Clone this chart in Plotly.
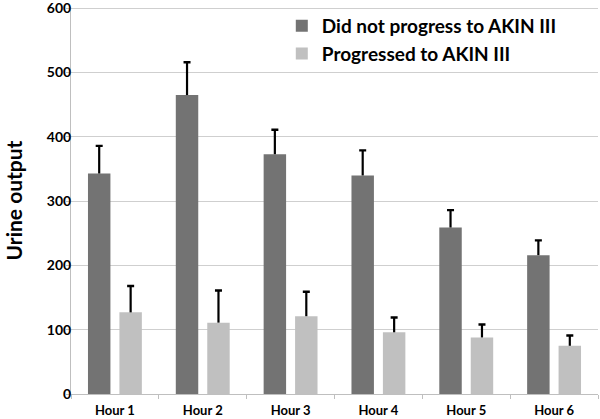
import plotly.graph_objects as go

categories = ["Hour 1", "Hour 2", "Hour 3", "Hour 4", "Hour 5", "Hour 6"]
no_progress = [343, 465, 373, 340, 259, 216]
no_progress_err = [43, 51, 38, 39, 27, 23]
progressed = [127, 111, 121, 96, 88, 75]
progressed_err = [41, 50, 38, 23, 20, 16]

FONT = "Lato, 'Open Sans', 'Liberation Sans', sans-serif"

fig = go.Figure()
fig.add_trace(go.Bar(
    x=categories, y=no_progress, name="Did not progress to AKIN III",
    marker=dict(color="#737373", line=dict(width=0)), offsetgroup="a",
))
fig.add_trace(go.Bar(
    x=categories, y=progressed, name="Progressed to AKIN III",
    marker=dict(color="#c0c0c0", line=dict(width=0)), offsetgroup="b",
))
# upper error whiskers drawn as thin bars above each bar
for vals, errs, grp in [(no_progress, no_progress_err, "a"),
                        (progressed, progressed_err, "b")]:
    fig.add_trace(go.Bar(
        x=categories, y=errs, base=vals, width=0.025, offsetgroup=grp,
        marker=dict(color="black", line=dict(width=0)), showlegend=False,
        hoverinfo="skip",
        error_y=dict(type="data", array=[0]*len(errs), color="black",
                     thickness=2.4, width=3.5),
    ))

fig.update_layout(
    width=600, height=419,
    margin=dict(l=71, r=2, t=7, b=25, autoexpand=False),
    paper_bgcolor="white", plot_bgcolor="white",
    barmode="group", bargap=0.284, bargroupgap=0.286,
    font=dict(family=FONT, color="black"),
    showlegend=True,
    legend=dict(x=0.4, y=1.0, xanchor="left", yanchor="top",
                bgcolor="rgba(0,0,0,0)",
                font=dict(family=FONT, size=19, color="black", weight="bold"),
                tracegroupgap=0, itemwidth=30),
    yaxis=dict(range=[0, 602], tickvals=[0, 100, 200, 300, 400, 500, 600],
               showgrid=True, gridcolor="#cfcfcf",
               gridwidth=1, showline=True, linecolor="#bfbfbf", linewidth=1,
               ticks="outside", ticklen=4, tickcolor="#bfbfbf",
               ticklabeloverflow="allow", ticklabelstandoff=-8,
               tickfont=dict(family=FONT, size=14, weight="bold"),
               title=dict(text="Urine output", standoff=18,
                          font=dict(family=FONT, size=21, weight="bold")),
               zeroline=False),
    xaxis=dict(showline=True, linecolor="#bfbfbf", linewidth=1,
               ticks="outside", ticklen=4, tickcolor="#bfbfbf",
               tickson="boundaries", ticklabelstandoff=4,
               ticklabeloverflow="allow",
               tickfont=dict(family=FONT, size=13, weight="bold")),
)

fig.write_html("out.html", config={"displayModeBar": False},
               post_script="document.body.style.margin='0';document.body.style.padding='0';")
